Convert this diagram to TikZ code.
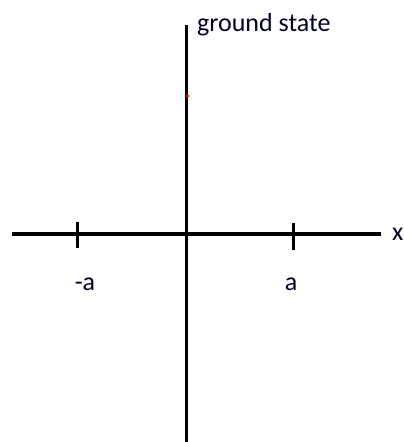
\documentclass[tikz,border=0pt]{standalone}
\usepackage{fontspec}
\setmainfont{Carlito}
\begin{document}
\begin{tikzpicture}[x=1pt,y=-1pt,
  axis/.style={line width=3.8pt,black},
  vaxis/.style={line width=3pt,black},
  tick/.style={line width=3pt,black},
  lbl/.style={font=\fontsize{26}{30}\selectfont,inner sep=0pt,text=black!85!blue}]
\useasboundingbox (0,0) rectangle (404,442);
\coordinate (hl) at (12,234);
\coordinate (hr) at (381,234);
\coordinate (vt) at (186,25);
\coordinate (vb) at (186,442);
\draw[axis] (hl) -- (hr);
\draw[vaxis] (vt) -- (vb);
\coordinate (t1a) at (77,222);
\coordinate (t1b) at (77,248);
\coordinate (t2a) at (293,223);
\coordinate (t2b) at (293,250);
\draw[tick] (t1a) -- (t1b);
\draw[tick] (t2a) -- (t2b);
\fill[red] (187.5,96) circle (1.8);
\node[lbl,anchor=base west] (gs) at (197,31) {ground state};
\node[lbl,anchor=base] (ma) at (85,290) {-a};
\node[lbl,anchor=base] (pa) at (291,290) {a};
\node[lbl,anchor=base west] (xl) at (392,240) {x};
\end{tikzpicture}
\end{document}
